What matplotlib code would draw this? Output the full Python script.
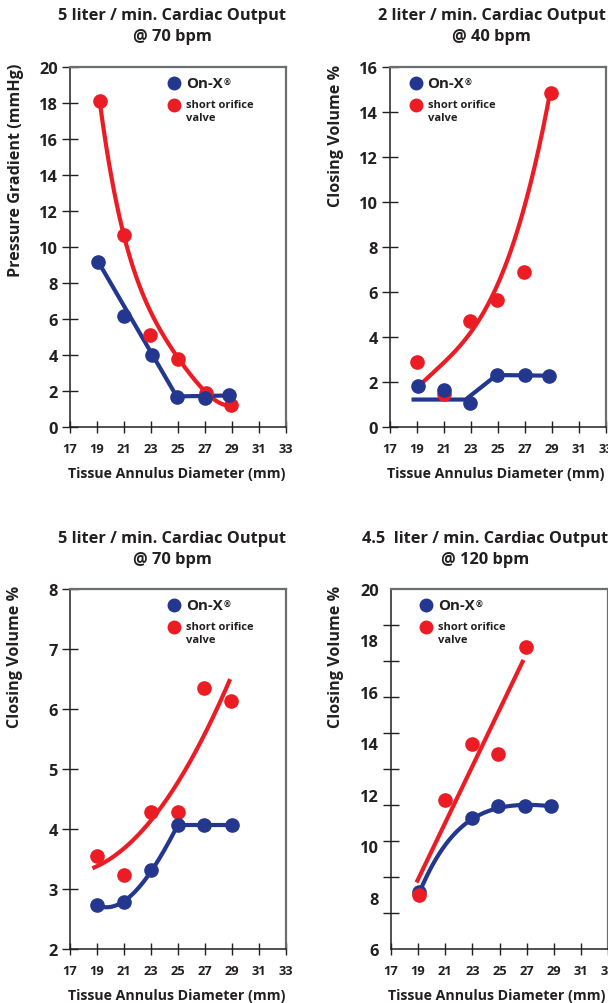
import numpy as np
import matplotlib
matplotlib.use("Agg")
import matplotlib.pyplot as plt
from matplotlib.ticker import FixedLocator

plt.rcParams['font.family'] = ['Open Sans', 'DejaVu Sans']
plt.rcParams['font.weight'] = 'bold'

TXT = '#231f20'
RED = '#ec1c24'
BLUE = '#24378f'
GRAY = '#6d6e71'

# ---------------- data ----------------
x_ticks = [17, 19, 21, 23, 25, 27, 29, 31, 33]

# Panel 1: pressure gradient, 5 L/min @ 70 bpm
p1_x_onx = [19.1, 21.0, 23.1, 24.9, 27.0, 28.8]
p1_y_onx = [9.17, 6.18, 4.0, 1.65, 1.6, 1.78]
p1_x_sov = [19.2, 21.0, 22.9, 25.0, 27.1, 28.9]
p1_y_sov = [18.13, 10.67, 5.11, 3.78, 1.89, 1.22]
p1_trend_onx_x = [19.1, 24.9, 28.8]
p1_trend_onx_y = [9.17, 1.7, 1.75]
p1_trend_sov_x = [19.2, 21.0, 23.0, 25.0, 27.0, 28.9]
p1_trend_sov_y = [18.1, 10.6, 6.4, 3.8, 2.0, 1.2]

# Panel 2: closing volume, 2 L/min @ 40 bpm
p2_x_onx = [19.1, 21.0, 22.9, 24.9, 27.0, 28.8]
p2_y_onx = [1.81, 1.66, 1.07, 2.31, 2.31, 2.28]
p2_x_sov = [19.0, 21.0, 22.9, 24.9, 26.9, 28.9]
p2_y_sov = [2.9, 1.47, 4.7, 5.64, 6.87, 14.84]
p2_trend_onx_x = [18.75, 22.6, 24.9, 28.8]
p2_trend_onx_y = [1.22, 1.22, 2.31, 2.28]
p2_trend_sov_x = [19.1, 21.0, 23.0, 25.0, 26.0, 27.0, 28.0, 28.9]
p2_trend_sov_y = [1.76, 2.9, 4.4, 6.0, 7.9, 10.1, 12.5, 14.84]

# Panel 3: closing volume, 5 L/min @ 70 bpm
p3_x_onx = [19.0, 21.0, 23.0, 25.0, 26.9, 29.0]
p3_y_onx = [2.74, 2.79, 3.31, 4.07, 4.07, 4.07]
p3_x_sov = [19.0, 21.0, 23.0, 25.0, 26.9, 28.9]
p3_y_sov = [3.55, 3.24, 4.28, 4.28, 6.35, 6.13]
p3_trend_onx_x = [19.0, 20.0, 21.0, 23.0, 25.0]
p3_trend_onx_y = [2.72, 2.73, 2.77, 3.3, 4.07]
p3_flat_onx_x = [25.0, 29.0]
p3_flat_onx_y = [4.07, 4.07]
p3_trend_sov_x = [18.8, 21.0, 23.0, 25.0, 27.0, 28.8]
p3_trend_sov_y = [3.33, 3.72, 4.17, 4.75, 5.55, 6.5]

# Panel 4: closing volume, 4.5 L/min @ 120 bpm
p4_x_onx = [19.1, 23.0, 24.9, 26.9, 28.8]
p4_y_onx = [8.2, 11.08, 11.55, 11.57, 11.55]
p4_x_sov = [19.05, 21.0, 22.95, 24.9, 26.95]
p4_y_sov = [8.1, 11.8, 13.97, 13.57, 17.76]
p4_trend_onx_x = [19.1, 21.0, 23.0, 25.0, 27.0, 28.8]
p4_trend_onx_y = [8.2, 10.05, 11.05, 11.5, 11.6, 11.55]
p4_trend_sov_x = [18.95, 26.7]
p4_trend_sov_y = [8.66, 17.17]

titles = ["5 liter / min. Cardiac Output\n@ 70 bpm",
          "2 liter / min. Cardiac Output\n@ 40 bpm",
          "5 liter / min. Cardiac Output\n@ 70 bpm",
          "4.5  liter / min. Cardiac Output\n@ 120 bpm"]
ylabels = ["Pressure Gradient (mmHg)", "Closing Volume %",
           "Closing Volume %", "Closing Volume %"]
xlabel = "Tissue Annulus Diameter (mm)"
legend_onx = "On-X"
legend_reg = "\u00ae"
legend_sov_lines = ["short orifice", "valve"]

W, H = 608, 1004
fig = plt.figure(figsize=(W / 100, H / 100), dpi=100)


def px_ax(left, top, right, bottom):
    return fig.add_axes([left / W, 1 - bottom / H, (right - left) / W, (bottom - top) / H])


def smooth(xk, yk, deg):
    xs = np.linspace(xk[0], xk[-1], 200)
    return xs, np.polyval(np.polyfit(xk, yk, deg), xs)


def style(ax, ylim, yticks, minor=None):
    ax.set_xlim(17, 33)
    ax.set_ylim(*ylim)
    ax.set_xticks(x_ticks)
    ax.set_yticks(yticks)
    for s in ['left', 'bottom']:
        ax.spines[s].set_color(TXT)
        ax.spines[s].set_linewidth(1.1)
    for s in ['top', 'right']:
        ax.spines[s].set_color(GRAY)
        ax.spines[s].set_linewidth(1.6)
    ax.tick_params(axis='x', direction='inout', length=8.5, width=1.0, color=TXT,
                   labelsize=9.3, labelcolor=TXT, pad=6.8)
    if minor is None:
        ax.tick_params(axis='y', direction='inout', length=11.5, width=1.0, color=TXT,
                       labelsize=11.8, labelcolor=TXT, pad=2.9)
    else:
        ax.tick_params(axis='y', which='major', length=0, labelsize=11.8,
                       labelcolor=TXT, pad=8.6)
        ax.yaxis.set_minor_locator(FixedLocator(minor))
        ax.tick_params(axis='y', which='minor', direction='inout', length=11.5,
                       width=1.0, color=TXT)
    for lab in ax.get_xticklabels() + ax.get_yticklabels():
        lab.set_fontweight('bold')


def legend(ax, mx, tx, ytop):
    """mx, tx, ytop in figure pixels (marker x, text left x, first row y)."""
    bb = ax.get_position()
    def fx(px):
        return (px / W - bb.x0) / bb.width
    def fy(py):
        return ((1 - py / H) - bb.y0) / bb.height
    ax.plot([fx(mx)], [fy(ytop)], 'o', ms=9, color=BLUE, transform=ax.transAxes,
            clip_on=False, zorder=6)
    ax.plot([fx(mx)], [fy(ytop + 22)], 'o', ms=9, color=RED, transform=ax.transAxes,
            clip_on=False, zorder=6)
    t = ax.text(fx(tx), fy(ytop), legend_onx, transform=ax.transAxes, ha='left',
                va='center', fontsize=10.8, color=TXT, fontweight='bold')
    ax.annotate(legend_reg, xy=(1, 1), xycoords=t, xytext=(0.3, -1.5),
                textcoords='offset points', ha='left', va='top', fontsize=6,
                color=TXT, fontweight='bold')
    for k, line in enumerate(legend_sov_lines):
        ax.text(fx(tx), fy(ytop + 22 + 13 * k), line, transform=ax.transAxes,
                ha='left', va='center', fontsize=8, color=TXT, fontweight='bold')


def put_texts(i, tx, ty1, ylx, yly, xlx, xly):
    fig.text(tx / W, 1 - ty1 / H, titles[i], ha='center', va='top', fontsize=11.8,
             color=TXT, fontweight='bold', linespacing=1.38)
    fig.text(ylx / W, 1 - yly / H, ylabels[i], ha='center', va='center', rotation=90,
             fontsize=11.6, color=TXT, fontweight='bold')
    fig.text(xlx / W, 1 - xly / H, xlabel, ha='center', va='center', fontsize=10.2,
             color=TXT, fontweight='bold')


LW = 3.0
MS = 9.5

# Panel 1
ax1 = px_ax(70, 68, 286, 428)
ax1.plot(*smooth(p1_trend_sov_x, p1_trend_sov_y, 4), color=RED, lw=LW, zorder=3)
ax1.plot(p1_trend_onx_x, p1_trend_onx_y, color=BLUE, lw=LW, zorder=3)
ax1.plot(p1_x_sov, p1_y_sov, 'o', color=RED, ms=MS, zorder=4)
ax1.plot(p1_x_onx, p1_y_onx, 'o', color=BLUE, ms=MS, zorder=5)
style(ax1, (0, 20), range(0, 21, 2))
legend(ax1, 174, 186, 84)
put_texts(0, 172, 8.5, 16.5, 170, 176.5, 474)

# Panel 2
ax2 = px_ax(390, 68, 606, 428)
ax2.plot(*smooth(p2_trend_sov_x, p2_trend_sov_y, 3), color=RED, lw=LW, zorder=3)
ax2.plot(p2_trend_onx_x, p2_trend_onx_y, color=BLUE, lw=LW, zorder=3)
ax2.plot(p2_x_sov, p2_y_sov, 'o', color=RED, ms=MS, zorder=4)
ax2.plot(p2_x_onx, p2_y_onx, 'o', color=BLUE, ms=MS, zorder=5)
style(ax2, (0, 16), range(0, 17, 2))
legend(ax2, 415.7, 427.5, 84)
put_texts(1, 491.5, 8.5, 335.5, 136, 496, 474)

# Panel 3
ax3 = px_ax(70, 590, 286, 950)
ax3.plot(*smooth(p3_trend_sov_x, p3_trend_sov_y, 2), color=RED, lw=LW, zorder=3)
ax3.plot(*smooth(p3_trend_onx_x, p3_trend_onx_y, 3), color=BLUE, lw=LW, zorder=3)
ax3.plot(p3_flat_onx_x, p3_flat_onx_y, color=BLUE, lw=LW, zorder=3)
ax3.plot(p3_x_sov, p3_y_sov, 'o', color=RED, ms=MS, zorder=4)
ax3.plot(p3_x_onx, p3_y_onx, 'o', color=BLUE, ms=MS, zorder=5)
style(ax3, (2, 8), range(2, 9, 1))
legend(ax3, 174, 186, 606)
put_texts(2, 172, 531.5, 15.5, 657, 176.5, 996)

# Panel 4
ax4 = px_ax(391, 590, 608, 950)
ax4.plot(p4_trend_sov_x, p4_trend_sov_y, color=RED, lw=LW, zorder=3)
ax4.plot(*smooth(p4_trend_onx_x, p4_trend_onx_y, 4), color=BLUE, lw=LW, zorder=3)
ax4.plot(p4_x_onx, p4_y_onx, 'o', color=BLUE, ms=MS, zorder=4)
ax4.plot(p4_x_sov, p4_y_sov, 'o', color=RED, ms=MS, zorder=5)
style(ax4, (6, 20), range(6, 21, 2), minor=list(np.arange(6, 20.01, 1.4)))
legend(ax4, 426.3, 438, 606)
put_texts(3, 485, 531.5, 336, 657, 496.5, 996)

fig.savefig("out.png", dpi=100)
